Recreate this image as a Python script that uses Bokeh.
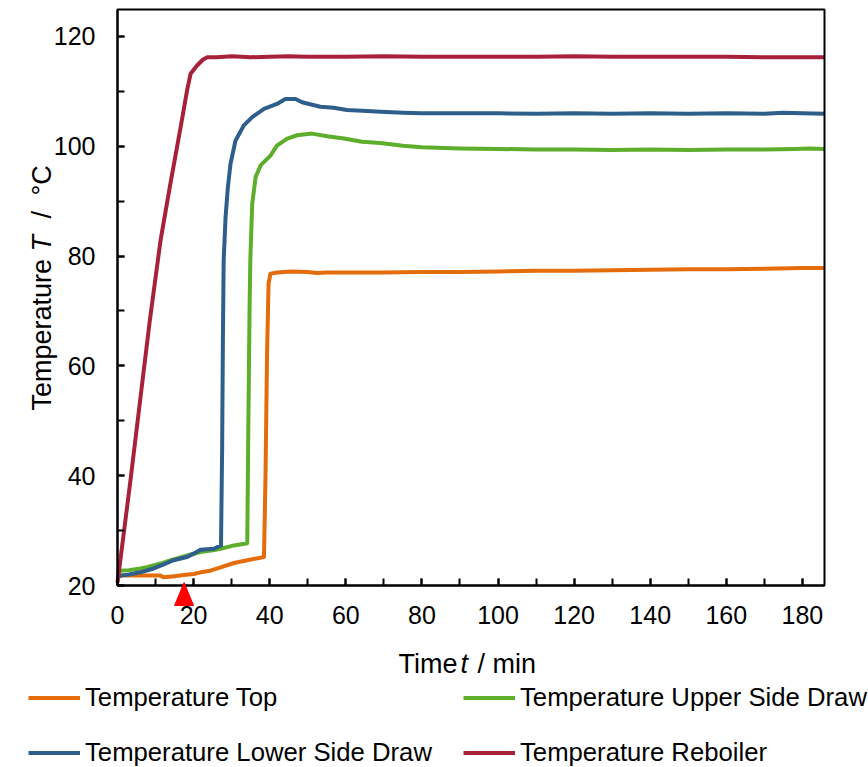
import math
from bokeh.plotting import figure
from bokeh.models import (Range1d, SingleIntervalTicker, Legend, LegendItem,
                          Label, PolyAnnotation, BoxAnnotation)
from bokeh.embed import file_html
from bokeh.resources import INLINE

# ---------------- data ----------------
t_top = [0, 0.8, 5, 11.3, 12.1, 15, 17.4, 20, 21.8, 24.4, 27.1, 30.6, 34.1, 38.5,
         38.9, 39.3, 39.7, 40.2, 42, 45.5, 49.8, 52.4, 55, 61.2, 70, 80, 90, 100,
         110, 120, 130, 140, 150, 160, 170, 180, 185.8]
T_top = [21.6, 21.8, 21.8, 21.8, 21.5, 21.7, 21.9, 22.1, 22.4, 22.7, 23.3, 24.1, 24.6, 25.2,
         40.0, 62.0, 75.0, 76.8, 77.0, 77.2, 77.1, 76.9, 77.0, 77.0, 77.0, 77.1, 77.1, 77.2,
         77.3, 77.3, 77.4, 77.5, 77.6, 77.6, 77.7, 77.8, 77.8]

t_upper = [0, 0.8, 3, 6, 8, 11.3, 14, 16.6, 19, 21.8, 25, 27.1, 30.6, 34.1, 34.4, 34.7,
           34.9, 35.4, 36.3, 37.6, 40.2, 41.9, 44.6, 47.2, 51.1, 55.1, 59.5, 64.3, 69.1,
           75, 80, 90, 100, 110, 120, 130, 140, 150, 160, 170, 178, 182, 185.8]
T_upper = [22.3, 22.7, 22.8, 23.1, 23.4, 24.0, 24.6, 25.1, 25.6, 26.1, 26.4, 26.7, 27.3, 27.7,
           50.0, 70.0, 79.2, 89.5, 94.4, 96.5, 98.3, 100.1, 101.4, 102.0, 102.3, 101.8, 101.4,
           100.8, 100.6, 100.1, 99.8, 99.6, 99.5, 99.4, 99.4, 99.3, 99.4, 99.3, 99.4, 99.4,
           99.5, 99.6, 99.5]

t_lower = [0, 0.8, 3, 6, 9.5, 12, 14.7, 18.3, 20, 21.8, 25.3, 27.2, 27.5, 27.7, 27.9, 28.4,
           29, 29.7, 31, 33.2, 35.4, 38.5, 41.9, 44.1, 46.8, 48.5, 53.3, 56.8, 60.3, 65.6,
           69.1, 75, 80, 90, 100, 110, 120, 130, 140, 150, 160, 170, 175, 180, 185.8]
T_lower = [21.5, 21.8, 22.0, 22.4, 23.1, 23.8, 24.6, 25.2, 25.8, 26.5, 26.7, 27.3, 45.0, 65.0,
           79.2, 87.1, 92.5, 96.8, 101.0, 103.8, 105.3, 106.8, 107.7, 108.6, 108.6, 108.0,
           107.2, 107.0, 106.6, 106.4, 106.3, 106.1, 106.0, 106.0, 106.0, 105.9, 106.0, 105.9,
           106.0, 105.9, 106.0, 105.9, 106.1, 106.0, 105.9]

t_reb = [0, 1, 3.4, 6, 8.5, 11.3, 13.9, 16.6, 18.3, 19.2, 20.9, 22.5, 23.6, 26, 30, 35, 40,
         45, 50, 55, 60, 70, 80, 90, 100, 110, 120, 130, 140, 150, 160, 170, 180, 185.8]
T_reb = [20.5, 26.0, 39.1, 54.0, 68.3, 82.8, 93.2, 103.5, 110.2, 113.2, 114.7, 115.8, 116.2,
         116.2, 116.4, 116.2, 116.3, 116.4, 116.3, 116.3, 116.3, 116.4, 116.3, 116.3, 116.3,
         116.3, 116.4, 116.3, 116.3, 116.3, 116.3, 116.2, 116.2, 116.2]

series_names = ["Temperature Top", "Temperature Upper Side Draw",
                "Temperature Lower Side Draw", "Temperature Reboiler"]
marker_time = 17.5   # red triangle on the time axis

x_min, x_max = 0, 185.8
y_min, y_max = 20, 124.9
x_tick_interval = 20
y_tick_interval = 20

# ---------------- layout / style ----------------
W, H = 868, 767
BOX_L, BOX_R, BOX_T, BOX_B = 117, 824, 9, 585      # plot box in pixels
SX = (BOX_R - BOX_L) / (x_max - x_min)
SY = (BOX_B - BOX_T) / (y_max - y_min)

def px_x(px):      # canvas px -> data x
    return x_min + (px - BOX_L) / SX

def px_y(py):      # canvas py -> data y
    return y_min + (BOX_B - py) / SY

FONT = "Liberation Sans"
colors = ["#E46C0A", "#5DAE2A", "#2E5E8B", "#A8213B"]

p = figure(width=W, height=H, output_backend="svg", toolbar_location=None,
           x_range=Range1d(px_x(0), px_x(W)), y_range=Range1d(px_y(H), px_y(0)),
           min_border=0)
p.grid.visible = False
p.outline_line_color = None
p.background_fill_color = "white"
p.border_fill_color = "white"

p.xaxis.fixed_location = y_min
p.yaxis.fixed_location = x_min
p.xaxis.bounds = (x_min, x_max)
p.yaxis.bounds = (y_min, y_max)
for ax, iv in ((p.xaxis, x_tick_interval), (p.yaxis, y_tick_interval)):
    ax.ticker = SingleIntervalTicker(interval=iv, num_minor_ticks=2)
    ax.axis_line_width = 2
    ax.axis_line_color = "black"
    ax.major_tick_in = 7
    ax.major_tick_out = 0
    ax.minor_tick_in = 7
    ax.minor_tick_out = 0
    ax.major_tick_line_width = 2
    ax.minor_tick_line_width = 2
    ax.major_label_text_font = FONT
    ax.major_label_text_font_size = "25px"
    ax.major_label_text_color = "black"
p.xaxis.major_label_standoff = 20
p.yaxis.major_label_standoff = 22

data = [(t_top, T_top), (t_upper, T_upper), (t_lower, T_lower), (t_reb, T_reb)]
renderers = []
for (tx, ty), c in zip(data, colors):
    r = p.line(tx, ty, line_color=c, line_width=4, line_join="round")
    renderers.append(r)

# plot box (top and right edges)
p.add_layout(BoxAnnotation(left=x_min, right=x_max, bottom=y_min, top=y_max,
                           fill_alpha=0, line_color="black", line_width=2,
                           line_alpha=1))

# red triangle marker below the time axis
half_w = 9.5 / SX
tri = PolyAnnotation(xs=[marker_time - half_w, marker_time, marker_time + half_w],
                     ys=[y_min - 20 / SY, y_min + 3 / SY, y_min - 20 / SY],
                     fill_color="#FF0000", fill_alpha=1, line_color="#FF0000",
                     line_width=1, line_alpha=1)
p.add_layout(tri)

# axis titles built from pieces (italic symbols)
def lab(text, x, y, italic=False, angle=0, size="27px"):
    p.add_layout(Label(x=x, y=y, text=text, text_font=FONT, text_font_size=size,
                       text_font_style="italic" if italic else "normal",
                       text_color="black", angle=angle, text_align="left",
                       text_baseline="alphabetic"))

lab("Time", px_x(398), px_y(663))
lab("t", px_x(460), px_y(663), italic=True)
lab("/ min", px_x(477), px_y(663))

ang = math.pi / 2
lab("Temperature", px_x(41), px_y(410), angle=ang)
lab("T", px_x(41), px_y(251), italic=True, angle=ang)
lab("/", px_x(41), px_y(218), angle=ang)
lab("°C", px_x(41), px_y(195), angle=ang)

legend = Legend(items=[LegendItem(label=n, renderers=[r])
                       for n, r in zip(series_names, renderers)],
                orientation="horizontal", nrows=2,
                location=(28, 0),
                glyph_width=52, glyph_height=25, label_standoff=5, spacing=26,
                label_width=352,
                padding=0, margin=0, border_line_color=None,
                background_fill_alpha=0,
                label_text_font=FONT, label_text_font_size="25.7px",
                label_text_color="black")
p.add_layout(legend)

open("out.html", "w").write(file_html(p, INLINE))
